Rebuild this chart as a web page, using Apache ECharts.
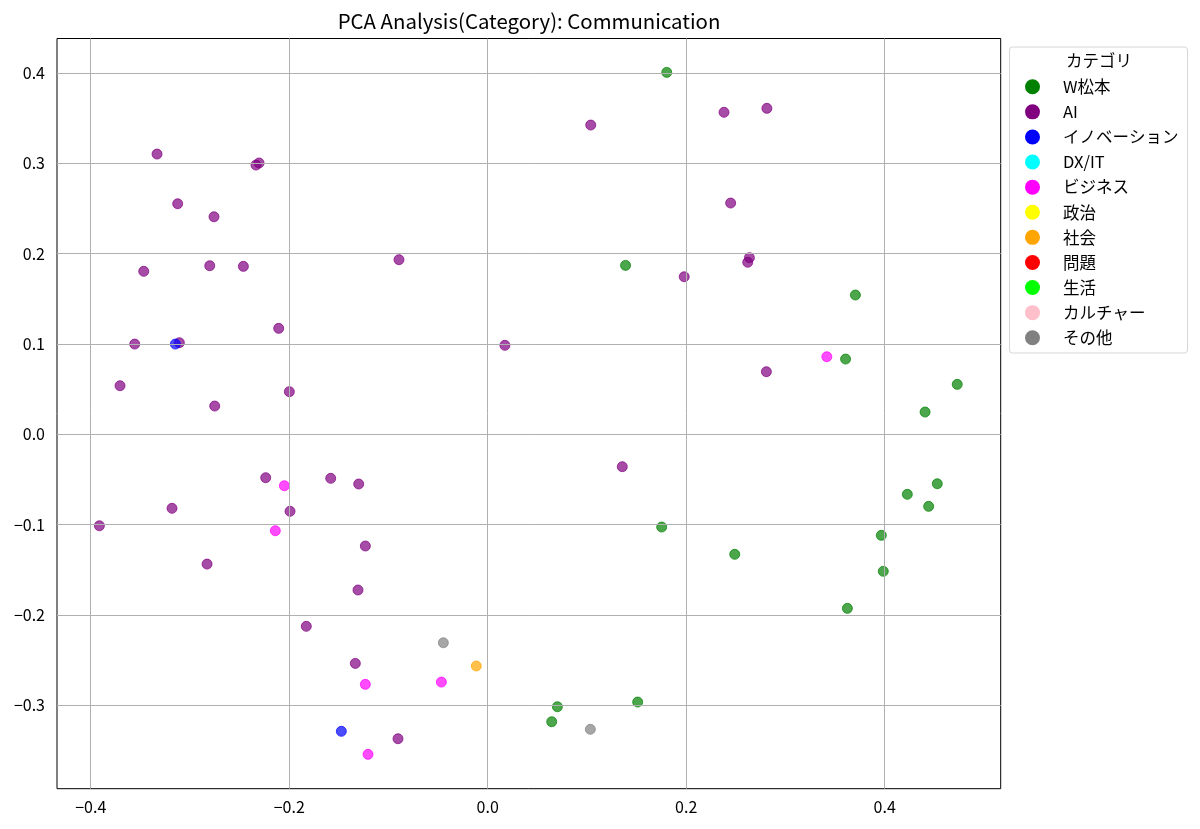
<!DOCTYPE html>
<html>
<head>
<meta charset="utf-8">
<script src="https://cdn.jsdelivr.net/npm/echarts@6/dist/echarts.min.js"></script>
<style>
  html, body { margin: 0; padding: 0; background: #fff; }
  #main { width: 1200px; height: 829px; }
</style>
</head>
<body>
<div id="main"></div>
<script>
// categories and colours (matplotlib named colours)
var categories = ['W松本', 'AI', 'イノベーション', 'DX/IT', 'ビジネス', '政治', '社会', '問題', '生活', 'カルチャー', 'その他'];
var colors = ['#008000', '#800080', '#0000ff', '#00ffff', '#ff00ff', '#ffff00', '#ffa500', '#ff0000', '#00ff00', '#ffc0cb', '#808080'];

// PC1 / PC2 per category
var wmX = [0.1804, 0.1389, 0.3705, 0.3606, 0.4731, 0.4407, 0.4530, 0.4228, 0.4443, 0.1753, 0.3966, 0.2489, 0.3986, 0.3624, 0.1511, 0.0702, 0.0645];
var wmY = [0.4006, 0.1870, 0.1542, 0.0833, 0.0553, 0.0247, -0.0547, -0.0664, -0.0797, -0.1026, -0.1118, -0.1328, -0.1516, -0.1926, -0.2963, -0.3015, -0.3181];

var aiX = [-0.3332, -0.2335, -0.2304, -0.3124, -0.2758, -0.3466, -0.2801, -0.2462, -0.0894, -0.2106, -0.3557, -0.3107, -0.3705, -0.1999, -0.2751,
           0.1038, 0.2381, 0.2813, 0.2448, 0.1980, 0.2637, 0.2620, 0.0173, 0.2808,
           -0.2237, -0.1582, -0.1300, -0.3181, -0.1992, -0.3913, -0.1233, -0.2828, -0.1307, -0.1828, -0.1334, -0.0904,
           0.1356];
var aiY = [0.3102, 0.2980, 0.3003, 0.2552, 0.2408, 0.1804, 0.1866, 0.1859, 0.1933, 0.1173, 0.0999, 0.1014, 0.0538, 0.0472, 0.0313,
           0.3423, 0.3564, 0.3608, 0.2560, 0.1744, 0.1955, 0.1904, 0.0985, 0.0693,
           -0.0480, -0.0487, -0.0550, -0.0819, -0.0852, -0.1012, -0.1236, -0.1436, -0.1723, -0.2125, -0.2535, -0.3369,
           -0.0358];

var innoX = [-0.3147, -0.1475];
var innoY = [0.0999, -0.3287];

var bizX = [0.3417, -0.2049, -0.2140, -0.1233, -0.0467, -0.1206];
var bizY = [0.0859, -0.0569, -0.1067, -0.2767, -0.2742, -0.3542];

var socX = [-0.0115];
var socY = [-0.2564];

var otherX = [-0.0447, 0.1034];
var otherY = [-0.2307, -0.3265];

var xTicks = [-0.4, -0.2, 0.0, 0.2, 0.4];
var yTicks = [-0.3, -0.2, -0.1, 0.0, 0.1, 0.2, 0.3, 0.4];

function pairs(xs, ys) {
  var out = [];
  for (var i = 0; i < xs.length; i++) out.push([xs[i], ys[i]]);
  return out;
}

var seriesData = {
  'W松本': pairs(wmX, wmY),
  'AI': pairs(aiX, aiY),
  'イノベーション': pairs(innoX, innoY),
  'ビジネス': pairs(bizX, bizY),
  '社会': pairs(socX, socY),
  'その他': pairs(otherX, otherY)
};

function fmt(v) {
  var s = (Math.round(v * 10) / 10).toFixed(1);
  return s.charAt(0) === '-' ? '\u2212' + s.slice(1) : s;
}

var font = '"Noto Sans CJK JP", "Noto Sans", sans-serif';

var series = categories.map(function (name, i) {
  return {
    name: name,
    type: 'scatter',
    data: seriesData[name] || [],
    symbolSize: 10,
    itemStyle: { color: colors[i], opacity: 0.7, borderColor: colors[i], borderWidth: 1 },
    emphasis: { disabled: true }
  };
});

var myChart = echarts.init(document.getElementById('main'));
var option = {
  backgroundColor: '#fff',
  animation: false,
  title: {
    text: 'PCA Analysis(Category): Communication',
    left: 524,
    top: 6,
    textAlign: 'center',
    textStyle: { fontFamily: font, fontSize: 20.4, fontWeight: 'normal', color: '#000' }
  },
  grid: {
    left: 57, top: 38.5, right: 199.3, bottom: 40.3,
    show: true, borderColor: '#000', borderWidth: 1, backgroundColor: 'transparent'
  },
  legend: {
    orient: 'vertical',
    left: 1020,
    top: 73.5,
    itemWidth: 15,
    itemHeight: 15,
    itemGap: 8.6,
    icon: 'circle',
    data: categories,
    itemStyle: { opacity: 1, borderWidth: 0 },
    textStyle: { fontFamily: font, fontSize: 16.5, color: '#000', padding: [0, 0, 0, 18] },
    selectedMode: false
  },
  graphic: [
    {
      type: 'rect',
      shape: { x: 1009.5, y: 47, width: 178, height: 306, r: 3 },
      style: { fill: 'rgba(255,255,255,0.8)', stroke: '#d6d6d6', lineWidth: 1 },
      z: -1
    },
    {
      type: 'text',
      x: 1099, y: 61,
      style: { text: 'カテゴリ', fontFamily: font, fontSize: 16.5, fill: '#000', align: 'center', verticalAlign: 'middle' }
    }
  ],
  xAxis: {
    type: 'value',
    min: -0.434,
    max: 0.5169,
    axisLine: { show: false },
    axisTick: { show: true, customValues: xTicks, length: 6, lineStyle: { color: '#000' } },
    axisLabel: { customValues: xTicks, formatter: fmt, fontFamily: font, fontSize: 16, color: '#000', margin: 10 },
    splitLine: { show: false }
  },
  yAxis: {
    type: 'value',
    min: -0.3922,
    max: 0.4381,
    axisLine: { show: false },
    axisTick: { show: true, customValues: yTicks, length: 6, lineStyle: { color: '#000' } },
    axisLabel: { customValues: yTicks, formatter: fmt, fontFamily: font, fontSize: 16, color: '#000', margin: 12 },
    splitLine: { show: false }
  },
  series: series.concat([{
    // grid lines at the tick values
    type: 'scatter',
    data: [],
    silent: true,
    markLine: {
      silent: true,
      symbol: 'none',
      label: { show: false },
      lineStyle: { color: '#b0b0b0', width: 1, type: 'solid' },
      data: xTicks.map(function (v) { return { xAxis: v }; })
        .concat(yTicks.map(function (v) { return { yAxis: v }; }))
    },
    z: 0
  }])
};
myChart.setOption(option);
</script>
</body>
</html>
